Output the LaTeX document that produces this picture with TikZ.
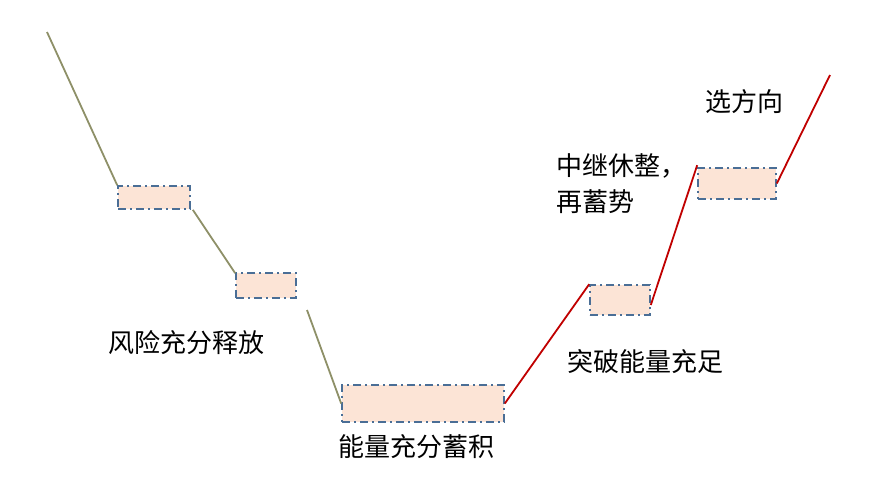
\documentclass[tikz,border=0pt]{standalone}
\usepackage{fontspec}
\newfontfamily\cjk{Noto Sans CJK SC}
\begin{document}
\begin{tikzpicture}[x=1pt,y=-1pt,
  bx/.style={draw=boxc,fill=boxf,line width=1.6pt,dash pattern=on 8pt off 4pt on 2pt off 4pt},
  gl/.style={draw=olivec,line width=1.8pt},
  rl/.style={draw=redc,line width=1.8pt},
  lb/.style={font=\cjk\fontsize{26}{36}\selectfont,align=left,anchor=west,inner sep=0}]
\definecolor{boxc}{HTML}{4A6E96}
\definecolor{boxf}{HTML}{FCE4D6}
\definecolor{olivec}{HTML}{8E9068}
\definecolor{redc}{HTML}{C00000}
\useasboundingbox (0,0) rectangle (881,499);
\coordinate (s) at (47,32);
\coordinate (e) at (830,75);
\node[bx,minimum width=72pt,minimum height=23pt,inner sep=0] (b1) at (154,197.5) {};
\node[bx,minimum width=60pt,minimum height=25pt,inner sep=0] (b2) at (266,285.5) {};
\node[bx,minimum width=162pt,minimum height=37pt,inner sep=0] (b3) at (423,403.5) {};
\node[bx,minimum width=60pt,minimum height=30pt,inner sep=0] (b4) at (620,300) {};
\node[bx,minimum width=78pt,minimum height=31pt,inner sep=0] (b5) at (737,183.5) {};
\draw[gl] (s) -- (b1.north west);
\draw[gl] ([xshift=2pt]b1.south east) -- ([yshift=-1pt]b2.north west);
\draw[gl] (307,310) -- (b3.west);
\draw[rl] (b3.east) -- (b4.north west);
\draw[rl] ([yshift=-5pt]b4.east) -- ([yshift=2pt]b5.north west);
\draw[rl] (b5.east) -- (e);
\node[lb] (t1) at (108,343) {风险充分释放};
\node[lb] (t2) at (338,447) {能量充分蓄积};
\node[lb] (t3) at (567,362) {突破能量充足};
\node[lb] (t4) at (556,184) {中继休整，\\再蓄势};
\node[lb] (t5) at (705,102) {选方向};
\end{tikzpicture}
\end{document}
